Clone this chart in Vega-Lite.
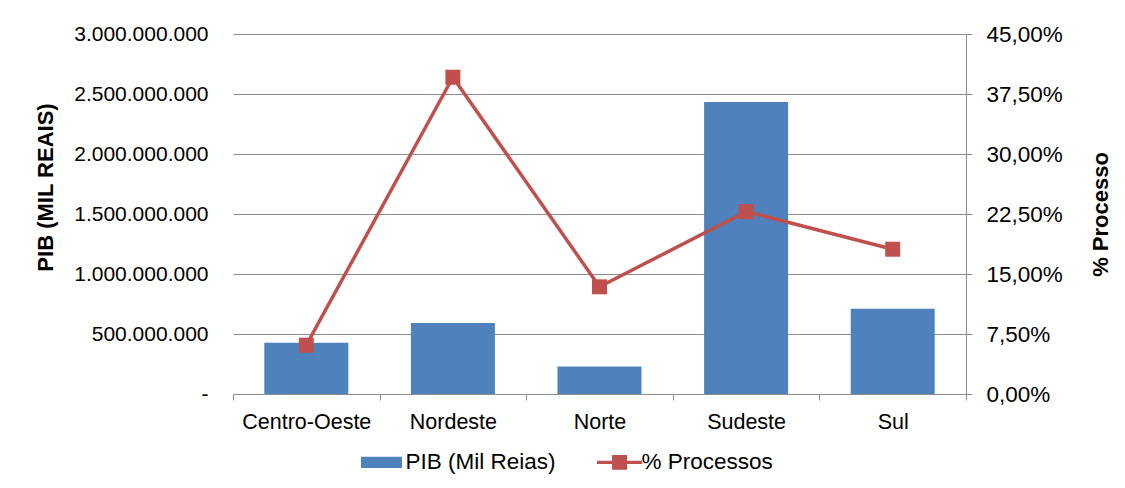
{
  "$schema": "https://vega.github.io/schema/vega-lite/v6.json",
  "autosize": "none",
  "width": 733,
  "height": 360,
  "padding": {"left": 233, "top": 34, "right": 159, "bottom": 94},
  "background": "white",
  "config": {
    "font": "Liberation Sans",
    "locale": {
      "number": {"decimal": ",", "thousands": ".", "grouping": [3], "currency": ["R$", ""]}
    },
    "view": {"stroke": null},
    "axis": {
      "labelFont": "Liberation Sans",
      "labelFontSize": 21.5,
      "labelColor": "black",
      "titleFont": "Liberation Sans",
      "titleFontSize": 22,
      "titleFontWeight": "bold",
      "titleColor": "black",
      "gridColor": "#8c8c8c",
      "domainColor": "#8c8c8c",
      "tickColor": "#8c8c8c"
    },
    "legend": {
      "labelFont": "Liberation Sans",
      "labelFontSize": 22.5,
      "labelColor": "black"
    }
  },
  "data": {
    "values": [
      {"regiao": "Centro-Oeste", "pib": 427000000, "processos": 0.061},
      {"regiao": "Nordeste", "pib": 592000000, "processos": 0.396},
      {"regiao": "Norte", "pib": 230000000, "processos": 0.134},
      {"regiao": "Sudeste", "pib": 2433000000, "processos": 0.228},
      {"regiao": "Sul", "pib": 711000000, "processos": 0.181}
    ]
  },
  "encoding": {
    "x": {
      "field": "regiao",
      "type": "nominal",
      "sort": null,
      "scale": {"paddingInner": 0, "paddingOuter": 0},
      "axis": {
        "title": null,
        "labelAngle": 0,
        "labelPadding": 11,
        "tickBand": "extent",
        "tickSize": 6,
        "grid": false
      }
    }
  },
  "layer": [
    {
      "mark": {"type": "bar", "width": {"band": 0.573}},
      "encoding": {
        "y": {
          "field": "pib",
          "type": "quantitative",
          "scale": {"domain": [0, 3000000000], "nice": false},
          "axis": {
            "title": "PIB (MIL REAIS)",
            "values": [0, 500000000, 1000000000, 1500000000, 2000000000, 2500000000, 3000000000],
            "format": ",d",
            "labelExpr": "datum.value == 0 ? '-' : datum.label",
            "labelFontSize": 21,
            "domain": false,
            "ticks": false,
            "labelPadding": 25,
            "titlePadding": 16,
            "titleY": 153,
            "grid": true
          }
        },
        "color": {
          "datum": "PIB (Mil Reias)",
          "type": "nominal",
          "scale": {
            "domain": ["PIB (Mil Reias)", "% Processos"],
            "range": ["#4F81BD", "#C0504D"]
          },
          "legend": {
            "title": null,
            "orient": "none",
            "legendX": 127,
            "legendY": 417,
            "direction": "horizontal",
            "symbolSize": 420,
            "labelOffset": 23,
            "columnPadding": 40,
            "symbolStrokeWidth": 0,
            "encode": {
              "symbols": {
                "update": {
                  "shape": {"signal": "datum.value == 'PIB (Mil Reias)' ? 'M-1,-0.54H3V0.54H-1Z' : 'M-1,-0.15H3.4V0.15H-1Z M0.47,-0.73H1.93V0.73H0.47Z'"},
                  "fill": {"scale": "color", "field": "value"},
                  "strokeWidth": {"value": 0}
                }
              }
            }
          }
        }
      }
    },
    {
      "mark": {
        "type": "line",
        "strokeWidth": 3.5,
        "point": {"shape": "square", "size": 225, "filled": true, "color": "#C0504D"}
      },
      "encoding": {
        "y": {
          "field": "processos",
          "type": "quantitative",
          "scale": {"domain": [0, 0.45], "nice": false},
          "axis": {
            "orient": "right",
            "title": "% Processo",
            "titleAngle": 270,
            "values": [0, 0.075, 0.15, 0.225, 0.3, 0.375, 0.45],
            "format": ",.2%",
            "labelFontSize": 22.5,
            "domain": true,
            "ticks": true,
            "tickSize": 6,
            "labelPadding": 14,
            "titlePadding": 50,
            "grid": false
          }
        },
        "color": {"datum": "% Processos", "type": "nominal"}
      }
    }
  ],
  "resolve": {"scale": {"y": "independent"}}
}
